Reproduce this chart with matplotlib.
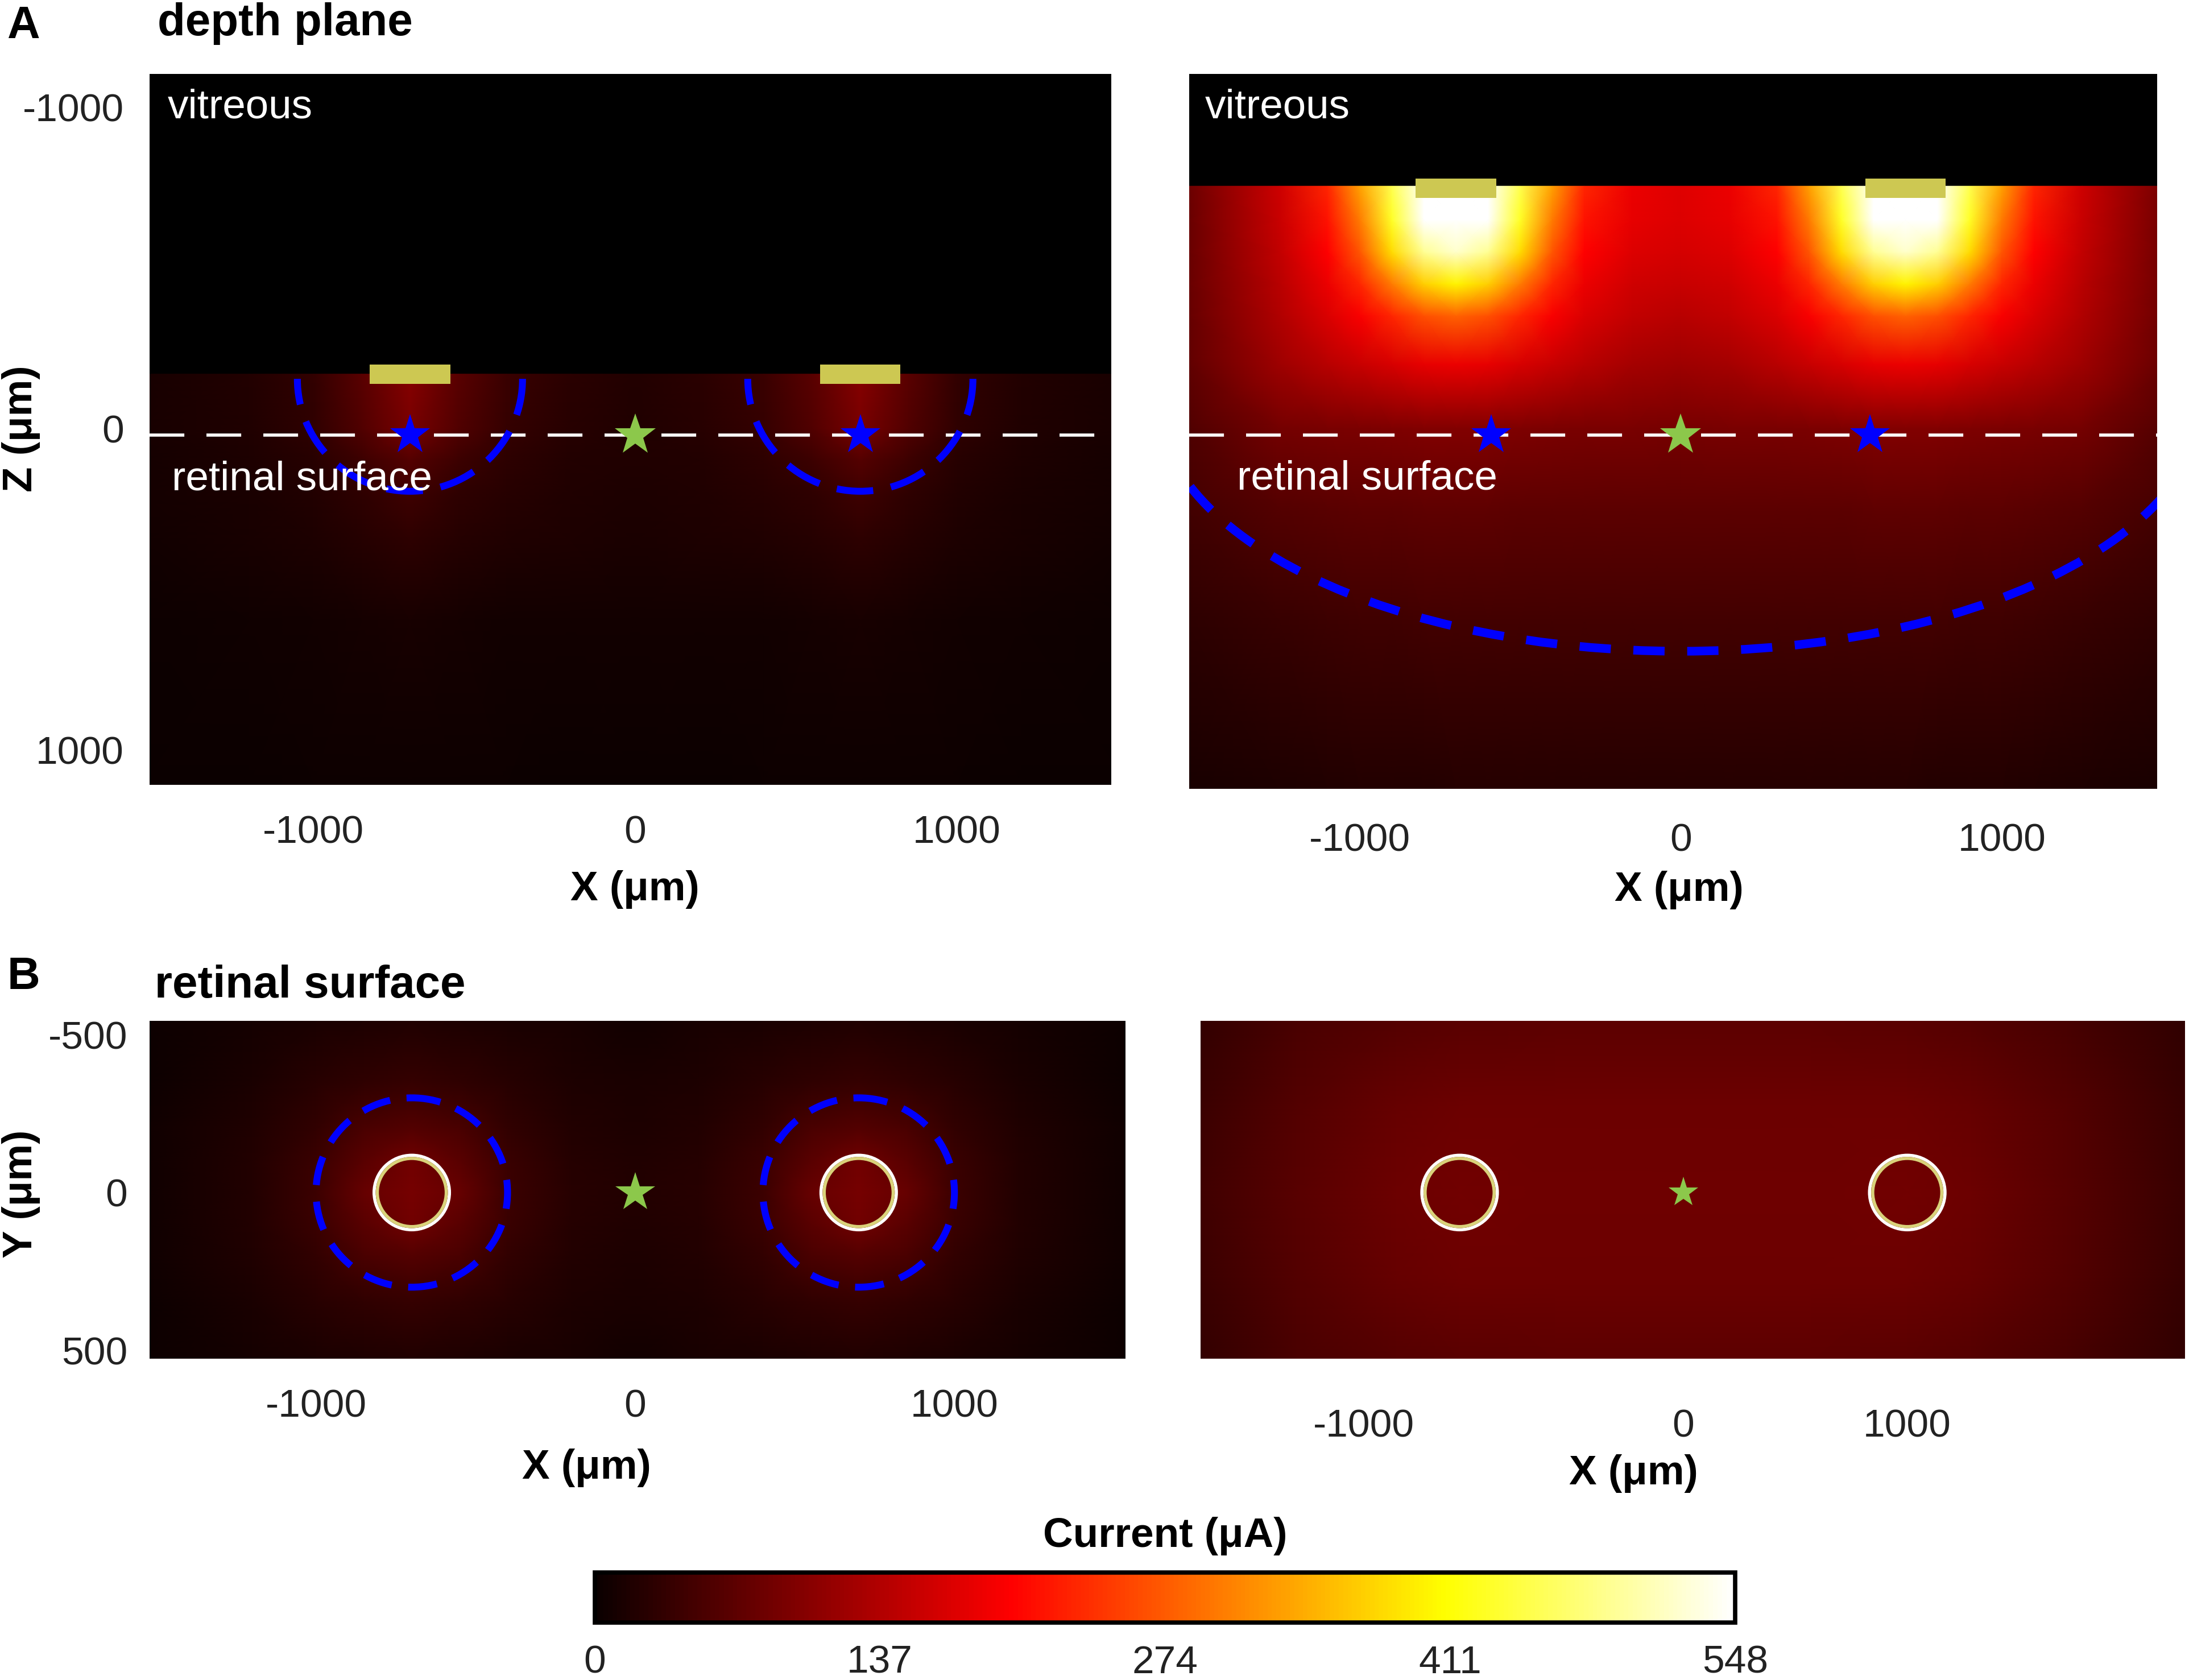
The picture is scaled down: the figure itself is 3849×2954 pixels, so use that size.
import numpy as np
import matplotlib
matplotlib.use("Agg")
import matplotlib.pyplot as plt
from matplotlib.patches import Rectangle, Arc, Circle
from matplotlib.colors import Normalize
from matplotlib.cm import ScalarMappable

plt.rcParams['font.family'] = ['Liberation Sans', 'DejaVu Sans']
plt.rcParams['axes.unicode_minus'] = False

# ---------------- data ----------------
CMAP = 'hot'
CMIN, CMAX = 0, 548
cbar_ticks = [0, 137, 274, 411, 548]

electrode_x = [-700, 700]
electrode_w = 250
retina_z = 20
blue_star_x_left = [-700, 700]
blue_star_x_right = [-590, 590]

# A left: depth plane, electrode close to retina
al_tissue_top = -170
al_elec_z = (-200, -140)
al_x = [-1530, -1200, -1000, -850, -700, -550, -400, -200, 0, 200, 400, 550, 700, 850, 1000, 1200, 1530]
al_z = [-170, 0, 100, 200, 350, 600, 1110]
al_c = [
    [12, 20, 34, 66, 102, 66, 39, 26, 20, 26, 39, 66, 102, 66, 34, 20, 12],
    [12, 18, 30, 58, 92, 58, 35, 24, 19, 24, 35, 58, 92, 58, 30, 18, 12],
    [10, 15, 25, 42, 62, 42, 29, 21, 18, 21, 29, 42, 62, 42, 25, 15, 10],
    [9, 13, 21, 32, 44, 32, 24, 19, 16, 19, 24, 32, 44, 32, 21, 13, 9],
    [7, 11, 16, 23, 29, 23, 18, 15, 13, 15, 18, 23, 29, 23, 16, 11, 7],
    [4, 6, 8, 10, 12, 10, 8, 7, 7, 7, 8, 10, 12, 10, 8, 6, 4],
    [1, 2, 3, 3, 4, 3, 3, 2, 2, 2, 3, 3, 4, 3, 3, 2, 1],
]
al_sphere = dict(zc=-155, r=350)

# A right: depth plane, electrode far from retina
ar_tissue_top = -755
ar_elec_z = (-778, -718)
ar_x = [-1540, -1250, -1100, -1000, -900, -800, -700, -600, -500, -400, -300, -150, 0,
        150, 300, 400, 500, 600, 700, 800, 900, 1000, 1100, 1250, 1540]
ar_z = [-755, -650, -550, -450, -350, -200, 0, 250, 600, 1130]
ar_c = [
    [78, 160, 230, 330, 450, 548, 548, 548, 450, 330, 230, 185, 175, 185, 230, 330, 450, 548, 548, 548, 450, 330, 230, 160, 78],
    [77, 155, 215, 300, 430, 548, 548, 548, 430, 300, 215, 180, 172, 180, 215, 300, 430, 548, 548, 548, 430, 300, 215, 155, 77],
    [76, 150, 200, 270, 380, 490, 520, 490, 380, 270, 200, 172, 165, 172, 200, 270, 380, 490, 520, 490, 380, 270, 200, 150, 76],
    [75, 143, 185, 230, 300, 370, 400, 370, 300, 230, 185, 162, 155, 162, 185, 230, 300, 370, 400, 370, 300, 230, 185, 143, 75],
    [73, 136, 170, 195, 230, 265, 280, 265, 230, 195, 170, 150, 143, 150, 170, 195, 230, 265, 280, 265, 230, 195, 170, 136, 73],
    [69, 120, 142, 155, 168, 180, 185, 180, 168, 155, 142, 128, 122, 128, 142, 155, 168, 180, 185, 180, 168, 155, 142, 120, 69],
    [57, 86, 91, 93, 95, 97, 98, 97, 95, 93, 92, 90, 89, 90, 92, 93, 95, 97, 98, 97, 95, 93, 91, 86, 57],
    [45, 61, 65, 67, 68, 69, 69, 69, 68, 67, 67, 67, 67, 67, 67, 67, 68, 69, 69, 69, 68, 67, 65, 61, 45],
    [28, 38, 41, 43, 44, 45, 45, 45, 45, 45, 45, 45, 45, 45, 45, 45, 45, 45, 45, 45, 44, 43, 41, 38, 28],
    [12, 17, 19, 20, 21, 21, 22, 22, 22, 22, 22, 22, 22, 22, 22, 22, 22, 22, 22, 21, 21, 20, 19, 17, 12],
]
ar_arc = dict(xc=0, zc=-100, a=1633, b=793)

# B left: retinal surface, electrode close
bl_x = [-1530, -1200, -1000, -850, -700, -550, -400, -200, 0, 200, 400, 550, 700, 850, 1000, 1200, 1540]
bl_y = [-545, -350, -200, -100, 0, 100, 200, 350, 535]
bl_c = [
    [3, 9, 14, 17, 18, 17, 14, 11, 8, 11, 14, 17, 18, 17, 14, 9, 3],
    [4, 14, 24, 31, 36, 31, 24, 17, 14, 17, 24, 31, 36, 31, 24, 14, 4],
    [5, 18, 34, 52, 62, 52, 34, 21, 17, 21, 34, 52, 62, 52, 34, 18, 5],
    [5, 20, 40, 66, 84, 66, 40, 23, 19, 23, 40, 66, 84, 66, 40, 20, 5],
    [5, 20, 42, 75, 88, 75, 42, 24, 20, 24, 42, 75, 88, 75, 42, 20, 5],
    [5, 20, 40, 66, 84, 66, 40, 23, 19, 23, 40, 66, 84, 66, 40, 20, 5],
    [5, 18, 34, 52, 62, 52, 34, 21, 17, 21, 34, 52, 62, 52, 34, 18, 5],
    [4, 14, 24, 31, 36, 31, 24, 17, 14, 17, 24, 31, 36, 31, 24, 14, 4],
    [3, 9, 14, 17, 18, 17, 14, 11, 8, 11, 14, 17, 18, 17, 14, 9, 3],
]
bl_dash_r = 300
ring_r_outer, ring_r_inner = 118, 108

# B right: retinal surface, electrode far
br_x = [-1520, -1200, -900, -700, -400, 0, 400, 700, 900, 1200, 1580]
br_y = [-545, -270, 0, 270, 535]
br_c = [
    [33, 52, 62, 66, 67, 67, 67, 66, 62, 50, 30],
    [40, 62, 76, 80, 80, 80, 80, 80, 76, 60, 36],
    [44, 66, 81, 85, 83, 82, 83, 85, 81, 64, 38],
    [40, 62, 76, 80, 80, 80, 80, 80, 76, 60, 36],
    [33, 52, 62, 66, 67, 67, 67, 66, 62, 50, 30],
]
br_tick_pos = [-1000, 0, 700]
br_tick_labels = ['-1000', '0', '1000']

# ---------------- styling ----------------
W, H = 3849, 2954
DPI = 250
fig = plt.figure(figsize=(W / DPI, H / DPI), dpi=DPI)

BLUE = '#0000ff'
GREEN = '#8cc84b'
ELEC = '#cdc852'
RING_Y = '#d9d27a'
TICKC = '#222222'
TICK_FS = 20
LABEL_FS = 21
HEAD_FS = 23
INNER_FS = 21

def frac(x0, y0, x1, y1):
    # reduced-image pixel box (1568 x 1203) -> figure fraction
    return [x0 / 1568, 1 - y1 / 1203, (x1 - x0) / 1568, (y1 - y0) / 1203]

ax_al = fig.add_axes(frac(107, 53, 796, 562))
ax_ar = fig.add_axes(frac(852, 53, 1545, 565))
ax_bl = fig.add_axes(frac(107, 731, 806, 973))
ax_br = fig.add_axes(frac(860, 731, 1565, 973))
cax = fig.add_axes(frac(426, 1126, 1243, 1162))

norm = Normalize(vmin=CMIN, vmax=CMAX)

def base(ax, xlim, ylim):
    ax.set_xlim(*xlim)
    ax.set_ylim(*ylim)
    for s in ax.spines.values():
        s.set_visible(False)
    ax.tick_params(length=0, labelsize=TICK_FS, colors=TICKC)

# ---- A left ----
ax = ax_al
ax.set_facecolor('black')
ax.pcolormesh(al_x, al_z, np.array(al_c, float), shading='gouraud', cmap=CMAP, norm=norm)
base(ax, (-1510, 1480), (1109, -1104))
ax.set_xticks([-1000, 0, 1000])
ax.set_yticks([-1000, 0, 1000])
ax.tick_params(axis='x', pad=15)
ax.tick_params(axis='y', pad=13)
ax.axhline(retina_z, color='white', lw=1.6, dashes=(11, 7))
for ex in electrode_x:
    ax.add_patch(Arc((ex, al_sphere['zc']), 2 * al_sphere['r'], 2 * al_sphere['r'],
                     theta1=0, theta2=180, color=BLUE, lw=3.5, linestyle=(0, (5.3, 2.6)), zorder=4))
    ax.add_patch(Rectangle((ex - electrode_w / 2, al_elec_z[0]), electrode_w,
                           al_elec_z[1] - al_elec_z[0], color=ELEC, lw=0, zorder=5))
ax.plot(blue_star_x_left, [retina_z] * 2, ls='none', marker='*', ms=21.5, color=BLUE, mew=0, zorder=6)
ax.plot([0], [retina_z], ls='none', marker='*', ms=22, color=GREEN, mew=0, zorder=6)
ax.text(0.019, 0.953, 'vitreous', color='white', fontsize=INNER_FS, transform=ax.transAxes,
        ha='left', va='center')
ax.text(0.023, 0.430, 'retinal surface', color='white', fontsize=INNER_FS, transform=ax.transAxes,
        ha='left', va='center', zorder=7)
ax.text(0.505, -0.147, 'X (μm)', fontsize=LABEL_FS, fontweight='bold', transform=ax.transAxes,
        ha='center', va='center')

# ---- A right ----
ax = ax_ar
ax.set_facecolor('black')
ax.pcolormesh(ar_x, ar_z, np.array(ar_c, float), shading='gouraud', cmap=CMAP, norm=norm)
base(ax, (-1530, 1483), (1122, -1104))
ax.set_xticks([-1000, 0, 1000])
ax.set_yticks([])
ax.tick_params(axis='x', pad=17)
ax.axhline(retina_z, color='white', lw=1.6, dashes=(11, 7))
ax.add_patch(Arc((ar_arc['xc'], ar_arc['zc']), 2 * ar_arc['a'], 2 * ar_arc['b'],
                 theta1=0, theta2=180, color=BLUE, lw=4.4, linestyle=(0, (3.6, 2.6)), zorder=4))
for ex in electrode_x:
    ax.add_patch(Rectangle((ex - electrode_w / 2, ar_elec_z[0]), electrode_w,
                           ar_elec_z[1] - ar_elec_z[0], color=ELEC, lw=0, zorder=5))
ax.plot(blue_star_x_right, [retina_z] * 2, ls='none', marker='*', ms=21.5, color=BLUE, mew=0, zorder=6)
ax.plot([0], [retina_z], ls='none', marker='*', ms=22, color=GREEN, mew=0, zorder=6)
ax.text(0.016, 0.953, 'vitreous', color='white', fontsize=INNER_FS, transform=ax.transAxes,
        ha='left', va='center')
ax.text(0.049, 0.434, 'retinal surface', color='white', fontsize=INNER_FS, transform=ax.transAxes,
        ha='left', va='center', zorder=7)
ax.text(0.506, -0.141, 'X (μm)', fontsize=LABEL_FS, fontweight='bold', transform=ax.transAxes,
        ha='center', va='center')

# ---- B left ----
ax = ax_bl
ax.set_facecolor('black')
ax.pcolormesh(bl_x, bl_y, np.array(bl_c, float), shading='gouraud', cmap=CMAP, norm=norm)
base(ax, (-1522, 1535), (527, -544))
ax.set_xticks([-1000, 0, 1000])
ax.set_yticks([-500, 0, 500])
ax.tick_params(axis='x', pad=15)
ax.tick_params(axis='y', pad=11)
for ex in electrode_x:
    ax.add_patch(Circle((ex, 0), bl_dash_r, fill=False, edgecolor=BLUE, lw=3.5,
                        linestyle=(0, (4.2, 2.4)), zorder=4))
    ax.add_patch(Circle((ex, 0), ring_r_outer, fill=False, edgecolor='white', lw=1.6, zorder=5))
    ax.add_patch(Circle((ex, 0), ring_r_inner, fill=False, edgecolor=RING_Y, lw=1.6, zorder=5))
ax.plot([0], [0], ls='none', marker='*', ms=21, color=GREEN, mew=0, zorder=6)
ax.text(0.448, -0.322, 'X (μm)', fontsize=LABEL_FS, fontweight='bold', transform=ax.transAxes,
        ha='center', va='center')

# ---- B right ----
ax = ax_br
ax.set_facecolor('black')
ax.pcolormesh(br_x, br_y, np.array(br_c, float), shading='gouraud', cmap=CMAP, norm=norm)
base(ax, (-1510, 1568), (527, -544))
ax.set_xticks(br_tick_pos)
ax.set_xticklabels(br_tick_labels)
ax.set_yticks([])
ax.tick_params(axis='x', pad=25)
for ex in electrode_x:
    ax.add_patch(Circle((ex, 0), ring_r_outer, fill=False, edgecolor='white', lw=1.6, zorder=5))
    ax.add_patch(Circle((ex, 0), ring_r_inner, fill=False, edgecolor=RING_Y, lw=1.6, zorder=5))
ax.plot([0], [0], ls='none', marker='*', ms=16, color=GREEN, mew=0, zorder=6)
ax.text(0.44, -0.339, 'X (μm)', fontsize=LABEL_FS, fontweight='bold', transform=ax.transAxes,
        ha='center', va='center')

# ---- colorbar ----
sm = ScalarMappable(norm=norm, cmap=CMAP)
cb = fig.colorbar(sm, cax=cax, orientation='horizontal')
cb.set_ticks(cbar_ticks)
cb.set_ticklabels([str(t) for t in cbar_ticks])
cax.tick_params(length=0, labelsize=TICK_FS, colors=TICKC, pad=11)
cb.outline.set_linewidth(2.2)
cb.outline.set_edgecolor('black')
fig.text(834.5 / 1568, 1 - 1100 / 1203, 'Current (μA)', fontsize=LABEL_FS, fontweight='bold',
         ha='center', va='center')

# ---- figure-level labels ----
fig.text(5 / 1568, 1 - 19 / 1203, 'A', fontsize=HEAD_FS, fontweight='bold', ha='left', va='center')
fig.text(113 / 1568, 1 - 17 / 1203, 'depth plane', fontsize=HEAD_FS, fontweight='bold',
         ha='left', va='center')
fig.text(5 / 1568, 1 - 700 / 1203, 'B', fontsize=HEAD_FS, fontweight='bold', ha='left', va='center')
fig.text(111 / 1568, 1 - 706 / 1203, 'retinal surface', fontsize=HEAD_FS, fontweight='bold',
         ha='left', va='center')
fig.text(15 / 1568, 1 - 307 / 1203, 'Z (μm)', fontsize=LABEL_FS, fontweight='bold', rotation=90,
         ha='center', va='center')
fig.text(15 / 1568, 1 - 855 / 1203, 'Y (μm)', fontsize=LABEL_FS, fontweight='bold', rotation=90,
         ha='center', va='center')

fig.savefig('out.png', dpi=DPI, facecolor='white')
